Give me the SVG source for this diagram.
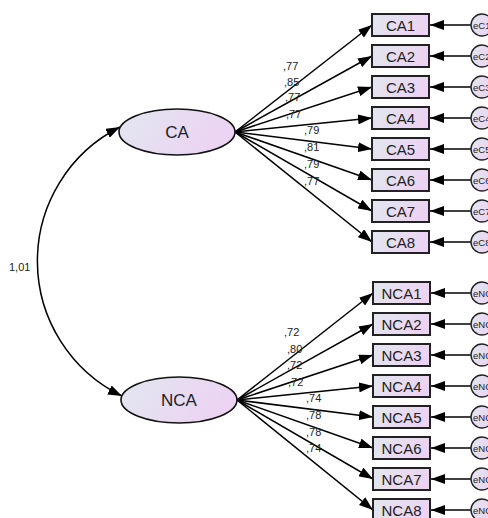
<svg xmlns="http://www.w3.org/2000/svg" width="488" height="518" viewBox="0 0 488 518">
<defs>
<linearGradient id="g" x1="0" y1="0" x2="1" y2="0.3">
<stop offset="0" stop-color="#e2e7ef"/>
<stop offset="1" stop-color="#ecd3f3"/>
</linearGradient>
<marker id="ah" markerUnits="userSpaceOnUse" markerWidth="14" markerHeight="10" refX="14" refY="5" orient="auto-start-reverse" viewBox="0 0 14 10">
<path d="M0,0 L14,5 L0,10 z" fill="#000"/>
</marker>
<style>
.lat{fill:url(#g);stroke:#111;stroke-width:1.6}
.box{fill:url(#g);stroke:#222;stroke-width:2}
.err{fill:url(#g);stroke:#222;stroke-width:1.4}
.c{stroke:#000;stroke-width:1.5;fill:none;marker-end:url(#ah)}
.t{font-family:"Liberation Sans",Arial,sans-serif;fill:#222;text-anchor:middle}
.bt{font-size:15px}
.lt{font-size:17px}
.et{font-size:9.5px;text-anchor:start}
.w{font-family:"Liberation Sans",Arial,sans-serif;fill:#222;font-size:11px}
</style>
</defs>
<g id="connectors">
<path class="c" d="M120,127 A150,150 0 0 0 122,396" style="marker-start:url(#ah)"/>
<line class="c" x1="235" y1="132" x2="372" y2="25"/>
<line class="c" x1="235" y1="132" x2="372" y2="56"/>
<line class="c" x1="235" y1="132" x2="372" y2="87"/>
<line class="c" x1="235" y1="132" x2="372" y2="118"/>
<line class="c" x1="235" y1="132" x2="372" y2="149"/>
<line class="c" x1="235" y1="132" x2="372" y2="180"/>
<line class="c" x1="235" y1="132" x2="372" y2="211"/>
<line class="c" x1="235" y1="132" x2="372" y2="242"/>
<line class="c" x1="237" y1="400" x2="373" y2="293"/>
<line class="c" x1="237" y1="400" x2="373" y2="324"/>
<line class="c" x1="237" y1="400" x2="373" y2="355"/>
<line class="c" x1="237" y1="400" x2="373" y2="386"/>
<line class="c" x1="237" y1="400" x2="373" y2="417"/>
<line class="c" x1="237" y1="400" x2="373" y2="448"/>
<line class="c" x1="237" y1="400" x2="373" y2="479"/>
<line class="c" x1="237" y1="400" x2="373" y2="510"/>
<line class="c" x1="471" y1="25" x2="430" y2="25"/>
<line class="c" x1="471" y1="56" x2="430" y2="56"/>
<line class="c" x1="471" y1="87" x2="430" y2="87"/>
<line class="c" x1="471" y1="118" x2="430" y2="118"/>
<line class="c" x1="471" y1="149" x2="430" y2="149"/>
<line class="c" x1="471" y1="180" x2="430" y2="180"/>
<line class="c" x1="471" y1="211" x2="430" y2="211"/>
<line class="c" x1="471" y1="242" x2="430" y2="242"/>
<line class="c" x1="471" y1="293" x2="431" y2="293"/>
<line class="c" x1="471" y1="324" x2="431" y2="324"/>
<line class="c" x1="471" y1="355" x2="431" y2="355"/>
<line class="c" x1="471" y1="386" x2="431" y2="386"/>
<line class="c" x1="471" y1="417" x2="431" y2="417"/>
<line class="c" x1="471" y1="448" x2="431" y2="448"/>
<line class="c" x1="471" y1="479" x2="431" y2="479"/>
<line class="c" x1="471" y1="510" x2="431" y2="510"/>
</g>
<g id="labels">
<text class="w" x="9" y="271">1,01</text>
<text class="w" x="283" y="70">,77</text>
<text class="w" x="284" y="86">,85</text>
<text class="w" x="285" y="101">,77</text>
<text class="w" x="286" y="118">,77</text>
<text class="w" x="304" y="134">,79</text>
<text class="w" x="304" y="151">,81</text>
<text class="w" x="304" y="168">,79</text>
<text class="w" x="304" y="185">,77</text>
<text class="w" x="284" y="336">,72</text>
<text class="w" x="287" y="353">,80</text>
<text class="w" x="287" y="369">,72</text>
<text class="w" x="288" y="386">,72</text>
<text class="w" x="306" y="402">,74</text>
<text class="w" x="306" y="419">,78</text>
<text class="w" x="306" y="436">,78</text>
<text class="w" x="306" y="452">,74</text>
</g>
<g id="CA"><ellipse class="lat" cx="177" cy="132" rx="58" ry="23"/><text class="t lt" x="177" y="138">CA</text></g>
<g id="NCA"><ellipse class="lat" cx="179" cy="400" rx="58" ry="23"/><text class="t lt" x="179" y="406">NCA</text></g>
<g id="CA1"><rect class="box" x="372" y="14" width="57" height="22"/><text class="t bt" x="400.5" y="30.5">CA1</text></g>
<g id="CA2"><rect class="box" x="372" y="45" width="57" height="22"/><text class="t bt" x="400.5" y="61.5">CA2</text></g>
<g id="CA3"><rect class="box" x="372" y="76" width="57" height="22"/><text class="t bt" x="400.5" y="92.5">CA3</text></g>
<g id="CA4"><rect class="box" x="372" y="107" width="57" height="22"/><text class="t bt" x="400.5" y="123.5">CA4</text></g>
<g id="CA5"><rect class="box" x="372" y="138" width="57" height="22"/><text class="t bt" x="400.5" y="154.5">CA5</text></g>
<g id="CA6"><rect class="box" x="372" y="169" width="57" height="22"/><text class="t bt" x="400.5" y="185.5">CA6</text></g>
<g id="CA7"><rect class="box" x="372" y="200" width="57" height="22"/><text class="t bt" x="400.5" y="216.5">CA7</text></g>
<g id="CA8"><rect class="box" x="372" y="231" width="57" height="22"/><text class="t bt" x="400.5" y="247.5">CA8</text></g>
<g id="NCA1"><rect class="box" x="373" y="282" width="57" height="22"/><text class="t bt" x="401.5" y="298.5">NCA1</text></g>
<g id="NCA2"><rect class="box" x="373" y="313" width="57" height="22"/><text class="t bt" x="401.5" y="329.5">NCA2</text></g>
<g id="NCA3"><rect class="box" x="373" y="344" width="57" height="22"/><text class="t bt" x="401.5" y="360.5">NCA3</text></g>
<g id="NCA4"><rect class="box" x="373" y="375" width="57" height="22"/><text class="t bt" x="401.5" y="391.5">NCA4</text></g>
<g id="NCA5"><rect class="box" x="373" y="406" width="57" height="22"/><text class="t bt" x="401.5" y="422.5">NCA5</text></g>
<g id="NCA6"><rect class="box" x="373" y="437" width="57" height="22"/><text class="t bt" x="401.5" y="453.5">NCA6</text></g>
<g id="NCA7"><rect class="box" x="373" y="468" width="57" height="22"/><text class="t bt" x="401.5" y="484.5">NCA7</text></g>
<g id="NCA8"><rect class="box" x="373" y="499" width="57" height="22"/><text class="t bt" x="401.5" y="515.5">NCA8</text></g>
<g id="eC1"><circle class="err" cx="482" cy="25" r="11"/><text class="t et" x="473" y="28.5">eC1</text></g>
<g id="eC2"><circle class="err" cx="482" cy="56" r="11"/><text class="t et" x="473" y="59.5">eC2</text></g>
<g id="eC3"><circle class="err" cx="482" cy="87" r="11"/><text class="t et" x="473" y="90.5">eC3</text></g>
<g id="eC4"><circle class="err" cx="482" cy="118" r="11"/><text class="t et" x="473" y="121.5">eC4</text></g>
<g id="eC5"><circle class="err" cx="482" cy="149" r="11"/><text class="t et" x="473" y="152.5">eC5</text></g>
<g id="eC6"><circle class="err" cx="482" cy="180" r="11"/><text class="t et" x="473" y="183.5">eC6</text></g>
<g id="eC7"><circle class="err" cx="482" cy="211" r="11"/><text class="t et" x="473" y="214.5">eC7</text></g>
<g id="eC8"><circle class="err" cx="482" cy="242" r="11"/><text class="t et" x="473" y="245.5">eC8</text></g>
<g id="eNC1"><circle class="err" cx="482" cy="293" r="11"/><text class="t et" x="473" y="296.5">eNC1</text></g>
<g id="eNC2"><circle class="err" cx="482" cy="324" r="11"/><text class="t et" x="473" y="327.5">eNC2</text></g>
<g id="eNC3"><circle class="err" cx="482" cy="355" r="11"/><text class="t et" x="473" y="358.5">eNC3</text></g>
<g id="eNC4"><circle class="err" cx="482" cy="386" r="11"/><text class="t et" x="473" y="389.5">eNC4</text></g>
<g id="eNC5"><circle class="err" cx="482" cy="417" r="11"/><text class="t et" x="473" y="420.5">eNC5</text></g>
<g id="eNC6"><circle class="err" cx="482" cy="448" r="11"/><text class="t et" x="473" y="451.5">eNC6</text></g>
<g id="eNC7"><circle class="err" cx="482" cy="479" r="11"/><text class="t et" x="473" y="482.5">eNC7</text></g>
<g id="eNC8"><circle class="err" cx="482" cy="510" r="11"/><text class="t et" x="473" y="513.5">eNC8</text></g>
</svg>
